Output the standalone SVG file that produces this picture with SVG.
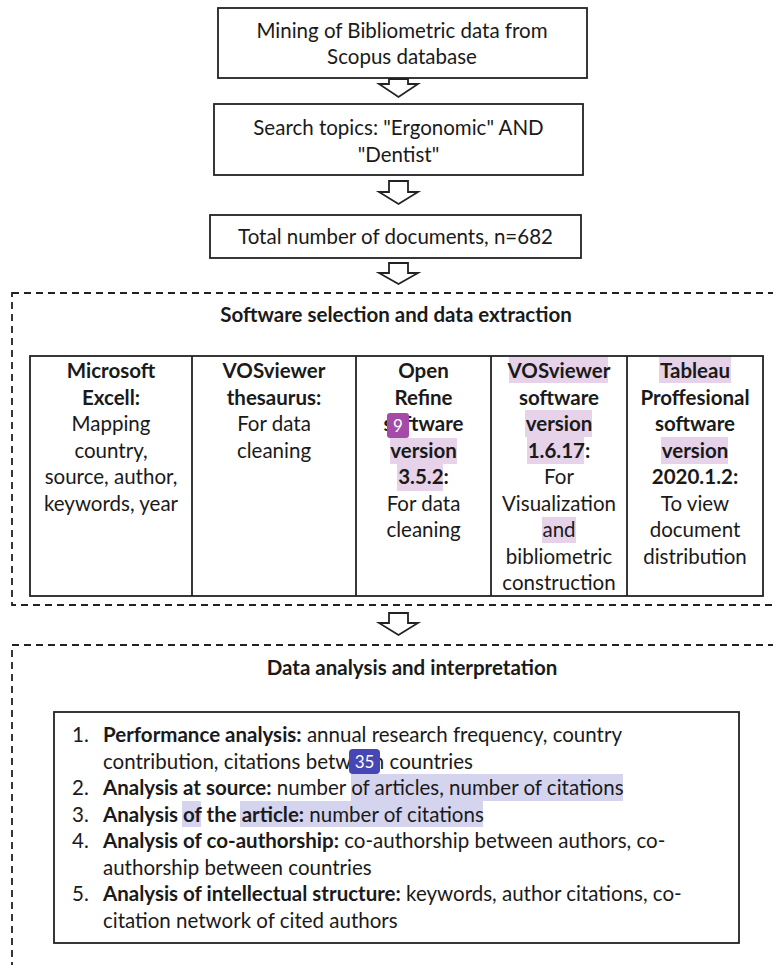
<svg xmlns="http://www.w3.org/2000/svg" width="773" height="965" viewBox="0 0 773 965">
<style>
text{font-family:Lato,"Open Sans","DejaVu Sans",sans-serif;font-size:20.5px;fill:#1a1a1a}
.c{text-anchor:middle}
.b{font-weight:bold}
.box{fill:#fff;stroke:#222;stroke-width:1.8}
.dash{fill:none;stroke:#222;stroke-width:1.8;stroke-dasharray:7 5}
.arr{fill:#fff;stroke:#222;stroke-width:1.8;stroke-linejoin:miter}
.hp{fill:#e6d3e9}
.hb{fill:#d5d4ef}
.badge{font-size:17px;fill:#fff;text-anchor:middle}
</style>
<rect width="773" height="965" fill="#fff"/>

<g id="connectors">
<path class="arr" d="M389 79 V84 H379 L398.5 97 L418 84 H408 V79 Z"/>
<path class="arr" d="M389 181 V192 H379 L398.5 204 L418 192 H408 V181 Z"/>
<path class="arr" d="M389 263 V273 H379 L398.5 284 L418 273 H408 V263 Z"/>
<path class="arr" d="M389 613 V623 H379 L398.5 635 L418 623 H408 V613 Z"/>
</g>

<g id="n1">
<rect class="box" x="218" y="8" width="369" height="70"/>
<text class="c" x="402" y="38">Mining of Bibliometric data from</text>
<text class="c" x="402" y="64">Scopus database</text>
</g>

<g id="n2">
<rect class="box" x="214" y="104" width="369" height="71"/>
<text class="c" x="398.5" y="135">Search topics: "Ergonomic" AND</text>
<text class="c" x="398.5" y="162">"Dentist"</text>
</g>

<g id="n3">
<rect class="box" x="210" y="215" width="371" height="43"/>
<text class="c" x="395.5" y="244">Total number of documents, n=682</text>
</g>

<g id="g-software">
<rect class="dash" x="12" y="293" width="800" height="312"/>
<text class="c b" x="396" y="322">Software selection and data extraction</text>
</g>

<g id="table">
<rect class="box" x="30" y="356" width="733" height="240"/>
<line x1="192" y1="356" x2="192" y2="596" stroke="#222" stroke-width="1.8"/>
<line x1="356" y1="356" x2="356" y2="596" stroke="#222" stroke-width="1.8"/>
<line x1="491" y1="356" x2="491" y2="596" stroke="#222" stroke-width="1.8"/>
<line x1="627" y1="356" x2="627" y2="596" stroke="#222" stroke-width="1.8"/>
</g>

<g id="c1">
<text class="c b" x="111" y="378">Microsoft</text>
<text class="c b" x="111" y="404.5">Excell:</text>
<text class="c" x="111" y="431">Mapping</text>
<text class="c" x="111" y="457.5">country,</text>
<text class="c" x="111" y="484">source, author,</text>
<text class="c" x="111" y="510.5">keywords, year</text>
</g>

<g id="c2">
<text class="c b" x="274" y="378">VOSviewer</text>
<text class="c b" x="274" y="404.5">thesaurus:</text>
<text class="c" x="274" y="431">For data</text>
<text class="c" x="274" y="457.5">cleaning</text>
</g>

<g id="c3">
<rect class="hp" x="390" y="438" width="67" height="26"/>
<rect class="hp" x="397" y="464" width="46" height="27"/>
<text class="c b" x="423.5" y="378">Open</text>
<text class="c b" x="423.5" y="404.5">Refine</text>
<text class="c b" x="423.5" y="431">software</text>
<text class="c b" x="423.5" y="457.5">version</text>
<text class="c b" x="423.5" y="484">3.5.2:</text>
<text class="c" x="423.5" y="510.5">For data</text>
<text class="c" x="423.5" y="537">cleaning</text>
<rect x="387" y="413" width="22" height="25" rx="3" fill="#a44ba8"/>
<text class="badge" x="398" y="431.5">9</text>
</g>

<g id="c4">
<rect class="hp" x="509" y="357" width="99" height="26"/>
<rect class="hp" x="525" y="410" width="67" height="27"/>
<rect class="hp" x="527" y="437" width="57" height="27"/>
<rect class="hp" x="542" y="517" width="34" height="26"/>
<text class="c b" x="559" y="378">VOSviewer</text>
<text class="c b" x="559" y="404.5">software</text>
<text class="c b" x="559" y="431">version</text>
<text class="c b" x="559" y="457.5">1.6.17:</text>
<text class="c" x="559" y="484">For</text>
<text class="c" x="559" y="510.5">Visualization</text>
<text class="c" x="559" y="537">and</text>
<text class="c" x="559" y="563.5">bibliometric</text>
<text class="c" x="559" y="590">construction</text>
</g>

<g id="c5">
<rect class="hp" x="659" y="357" width="72" height="26"/>
<rect class="hp" x="661" y="437" width="67" height="27"/>
<text class="c b" x="695" y="378">Tableau</text>
<text class="c b" x="695" y="404.5">Proffesional</text>
<text class="c b" x="695" y="431">software</text>
<text class="c b" x="695" y="457.5">version</text>
<text class="c b" x="695" y="484">2020.1.2:</text>
<text class="c" x="695" y="510.5">To view</text>
<text class="c" x="695" y="537">document</text>
<text class="c" x="695" y="563.5">distribution</text>
</g>

<g id="g-analysis">
<rect class="dash" x="12" y="645" width="800" height="400"/>
<text class="c b" x="412" y="675">Data analysis and interpretation</text>
</g>

<g id="list">
<rect class="box" x="54" y="712" width="685" height="231"/>
<rect class="hb" x="351" y="774" width="272" height="27"/>
<rect class="hb" x="182" y="801" width="19" height="26"/>
<rect class="hb" x="240" y="801" width="243" height="26"/>
<text x="72" y="742">1.</text>
<text x="103" y="742"><tspan class="b">Performance analysis:</tspan> annual research frequency, country</text>
<text x="103" y="768.5">contribution, citations between countries</text>
<text x="72" y="795">2.</text>
<text x="103" y="795"><tspan class="b">Analysis at source:</tspan> number of articles, number of citations</text>
<text x="72" y="821.5">3.</text>
<text x="103" y="821.5"><tspan class="b">Analysis of the article:</tspan> number of citations</text>
<text x="72" y="848">4.</text>
<text x="103" y="848"><tspan class="b">Analysis of co-authorship:</tspan> co-authorship between authors, co-</text>
<text x="103" y="874.5">authorship between countries</text>
<text x="72" y="901">5.</text>
<text x="103" y="901"><tspan class="b">Analysis of intellectual structure:</tspan> keywords, author citations, co-</text>
<text x="103" y="927.5">citation network of cited authors</text>
<rect x="349" y="749" width="31" height="25" rx="4" fill="#4646b4"/>
<text class="badge" x="364.5" y="767.5">35</text>
</g>
</svg>
